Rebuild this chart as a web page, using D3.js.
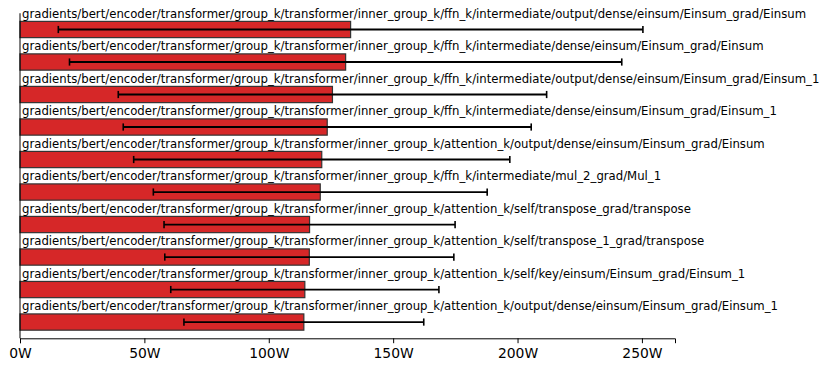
<!DOCTYPE html>
<html><head><meta charset="utf-8">
<script src="https://cdn.jsdelivr.net/npm/d3@7"></script>
<style>body{margin:0;background:#fff}svg{display:block}</style>
</head><body>
<script>
const prefix = "gradients/bert/encoder/transformer/group_k/transformer/inner_group_k/";
const categories = [
  "ffn_k/intermediate/output/dense/einsum/Einsum_grad/Einsum",
  "ffn_k/intermediate/dense/einsum/Einsum_grad/Einsum",
  "ffn_k/intermediate/output/dense/einsum/Einsum_grad/Einsum_1",
  "ffn_k/intermediate/dense/einsum/Einsum_grad/Einsum_1",
  "attention_k/output/dense/einsum/Einsum_grad/Einsum",
  "ffn_k/intermediate/mul_2_grad/Mul_1",
  "attention_k/self/transpose_grad/transpose",
  "attention_k/self/transpose_1_grad/transpose",
  "attention_k/self/key/einsum/Einsum_grad/Einsum_1",
  "attention_k/output/dense/einsum/Einsum_grad/Einsum_1"
].map(s => prefix + s);
const means = [132.9, 130.9, 125.6, 123.5, 121.3, 120.7, 116.4, 116.3, 114.5, 114.1];
const stds  = [117.5, 111.0, 86.1, 82.0, 75.6, 67.1, 58.5, 58.1, 53.9, 48.2];
const xTicks = [0, 50, 100, 150, 200, 250];

const W = 831, H = 369;
const svg = d3.select("body").append("svg").attr("width", W).attr("height", H);

const x = d3.scaleLinear().domain([0, 263.3]).range([20, 675]);
const y = d3.scaleLinear().domain([-0.5, categories.length - 0.5]).range([13.25, 338.3]);
const bh = 0.5;

const g = svg.append("g");
g.selectAll("rect.bar").data(means).join("rect")
  .attr("class", "bar")
  .attr("x", x(0))
  .attr("y", (d, i) => y(i - bh / 2))
  .attr("width", d => x(d) - x(0))
  .attr("height", y(bh) - y(0))
  .attr("fill", "#d62728")
  .attr("stroke", "#333")
  .attr("stroke-width", 1.2);

const eb = g.selectAll("g.err").data(means).join("g").attr("class", "err");
eb.append("line")
  .attr("x1", (d, i) => x(d - stds[i])).attr("x2", (d, i) => x(d + stds[i]))
  .attr("y1", (d, i) => y(i)).attr("y2", (d, i) => y(i))
  .attr("stroke", "#000").attr("stroke-width", 1.8);
[-1, 1].forEach(s => {
  eb.append("line")
    .attr("x1", (d, i) => x(d + s * stds[i])).attr("x2", (d, i) => x(d + s * stds[i]))
    .attr("y1", (d, i) => y(i) - 3.6).attr("y2", (d, i) => y(i) + 3.6)
    .attr("stroke", "#000").attr("stroke-width", 1.6);
});

const labs = g.selectAll("text.lab").data(categories).join("text")
  .attr("class", "lab")
  .attr("x", 22)
  .attr("y", (d, i) => y(i - bh / 2) - 3.8)
  .attr("font-family", "DejaVu Sans")
  .attr("font-size", "12px")
  .attr("fill", "#000")
  .text(d => d);
// fit font so the first label spans the same width as in the reference (~785px)
const len0 = labs.node().getComputedTextLength();
const fs = 12 * 785 / len0;
labs.attr("font-size", fs + "px");

svg.append("line").attr("x1", 20).attr("x2", 20).attr("y1", 13.25).attr("y2", 338.3)
  .attr("stroke", "#000").attr("stroke-width", 1);

const ax = svg.append("g").attr("transform", "translate(0,338.3)")
  .call(d3.axisBottom(x).tickValues(xTicks).tickFormat(d => d + "W").tickSize(4.9).tickPadding(5));
ax.select(".domain").attr("stroke", "#000").attr("stroke-width", 1);
ax.selectAll(".tick line").attr("stroke", "#000");
ax.selectAll("text").attr("font-family", "DejaVu Sans").attr("font-size", "13.9px").attr("fill", "#000");
</script>
</body></html>
